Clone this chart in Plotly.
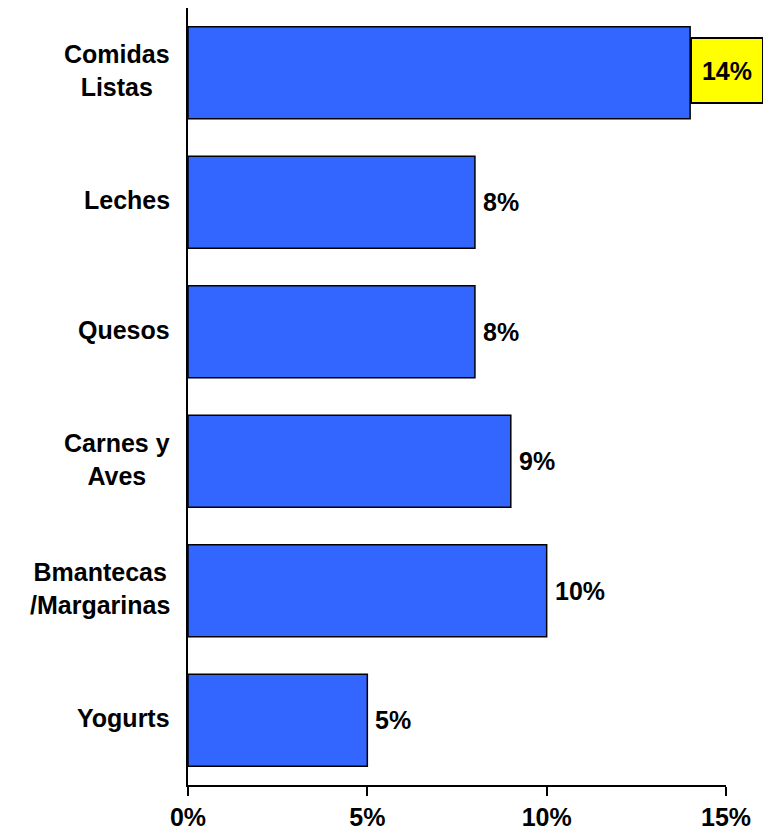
import plotly.graph_objects as go

# datos
categorias = ["Comidas<br>Listas", "Leches", "Quesos", "Carnes y<br>Aves",
              "Bmantecas<br>/Margarinas", "Yogurts"]
valores = [14, 8, 8, 9, 10, 5]
resaltar = [True, False, False, False, False, False]
ticks = [0, 5, 10, 15]
tick_labels = ["0%", "5%", "10%", "15%"]

FUENTE = "Liberation Sans, Arial"

fig = go.Figure()
fig.add_trace(go.Bar(
    x=valores,
    y=categorias,
    orientation="h",
    width=0.71,
    marker=dict(color="#3366FF", line=dict(color="black", width=1.5)),
    hoverinfo="skip",
))

# nombres de categoria (centrados, como en el original)
for cat in categorias:
    fig.add_annotation(
        x=0, y=cat, xref="paper", yref="y", text="<b>%s</b>" % cat,
        showarrow=False, xanchor="right", yanchor="middle", xshift=-16, yshift=2,
        align="center", font=dict(family=FUENTE, size=25, color="black"),
    )

# etiquetas de valor
for cat, val, res in zip(categorias, valores, resaltar):
    if res:
        fig.add_annotation(
            x=val, y=cat, xref="x", yref="y", text="<b>%d%%</b>" % val,
            showarrow=False, xanchor="left", yanchor="middle", yshift=2,
            font=dict(family=FUENTE, size=25, color="black"),
            bgcolor="#FFFF00", bordercolor="black", borderwidth=2, borderpad=0,
            width=70, height=63, align="center",
        )
    else:
        fig.add_annotation(
            x=val, y=cat, xref="x", yref="y", text="<b>%d%%</b>" % val,
            showarrow=False, xanchor="left", yanchor="middle", xshift=6,
            font=dict(family=FUENTE, size=25, color="black"),
        )

# la pagina tiene 8px de margen: la figura se reduce para caber
fig.update_layout(
    width=755, height=823,
    margin=dict(l=180, r=37, t=0, b=46),
    plot_bgcolor="white", paper_bgcolor="white",
    showlegend=False,
    font=dict(family=FUENTE, color="black"),
    xaxis=dict(
        range=[0, 15], tickvals=ticks, ticktext=["<b>%s</b>" % t for t in tick_labels],
        showgrid=False, zeroline=False, showline=True, linecolor="black", linewidth=1.5,
        ticks="outside", ticklen=9, tickwidth=1.5, tickcolor="black",
        tickfont=dict(size=25, color="black"), automargin=False,
    ),
    yaxis=dict(
        categoryorder="array", categoryarray=categorias, autorange="reversed",
        showgrid=False, zeroline=False, showline=True, linecolor="black", linewidth=1.5,
        ticks="", showticklabels=False, automargin=False,
    ),
)

fig.write_html("out.html")
